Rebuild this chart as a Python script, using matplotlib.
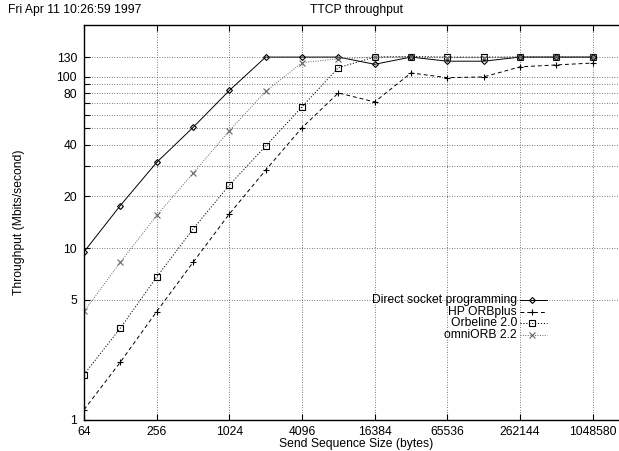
import matplotlib
matplotlib.use('Agg')
import matplotlib.pyplot as plt
from matplotlib.lines import Line2D

# send sizes (bytes) and throughput (Mbits/second)
sizes = [64, 128, 256, 512, 1024, 2048, 4096, 8192, 16384, 32768,
         65536, 131072, 262144, 524288, 1048576]
direct = [9.5, 17.7, 31.6, 50.5, 83, 130, 130, 130, 118, 130, 123, 123, 130, 130, 130]
hp = [1.14, 2.16, 4.26, 8.25, 15.8, 28.5, 50.3, 80.3, 71.2, 105, 98.6, 99.6, 114, 117, 120]
orbeline = [1.83, 3.41, 6.78, 12.9, 23.3, 39.3, 66.6, 112.8, 130, 131, 130, 130, 130, 130, 130]
omni = [4.28, 8.25, 15.5, 27.3, 48.3, 82, 120.6, 127, 130, 130, 129, 129, 130, 130, 130]

xtick_pos = [64, 256, 1024, 4096, 16384, 65536, 262144, 1048576]
xtick_lab = ['64', '256', '1024', '4096', '16384', '65536', '262144', '1048580']
ytick_pos = [1, 5, 10, 20, 30, 40, 50, 60, 70, 80, 90, 100, 130]
ytick_lab = ['1', '5', '10', '20', '', '40', '', '', '', '80', '', '100', '130']

plt.rcParams['font.family'] = ['Liberation Sans', 'DejaVu Sans']
plt.rcParams['font.size'] = 8.7

W, H = 619, 451
fig = plt.figure(figsize=(W / 100, H / 100), dpi=100)

def px(x, y):
    return x / W, 1 - y / H

left, right, top, bottom = 84, 629, 25, 419.5
ax = fig.add_axes([left / W, 1 - bottom / H, (right - left) / W, (bottom - top) / H])

series = [
    ('Direct socket programming', direct, dict(color='black', ls='-', marker='D', ms=3)),
    ('HP ORBplus', hp, dict(color='black', ls=(0, (4, 3)), marker='+', ms=4.5)),
    ('Orbeline 2.0', orbeline, dict(color='black', ls=(0, (1.2, 1.8)), marker='s', ms=4)),
    ('omniORB 2.2', omni, dict(color='0.4', ls=(0, (1, 1.5)), marker='x', ms=4)),
]
for name, vals, st in series:
    ax.plot(sizes, vals, lw=0.7, mfc='none', mew=0.8, **st)

ax.set_xscale('log', base=2)
ax.set_yscale('log')
ax.set_xlim(64, 2097152)
ax.set_ylim(1, 200)
ax.set_xticks(xtick_pos, xtick_lab)
ax.set_yticks(ytick_pos, ytick_lab)
ax.minorticks_off()
ax.tick_params(direction='in', length=4, width=0.8, top=True, right=True, pad=5)
ax.grid(True, color='0.3', ls=(0, (1, 2)), lw=0.6)
for s in ax.spines.values():
    s.set_linewidth(1.0)

ax.set_xlabel('Send Sequence Size (bytes)', labelpad=0)
ax.set_ylabel('Throughput (Mbits/second)')
ax.yaxis.set_label_coords((25 - left) / (right - left), 0.5)

fig.text(*px(8, 10), 'Fri Apr 11 10:26:59 1997', va='center', ha='left')
fig.text(*px((left + right) / 2, 10), 'TTCP throughput', va='center', ha='center')

# legend drawn in pixel positions
rows = [300, 311.7, 323.3, 335]
for (name, vals, st), y in zip(series, rows):
    fig.text(*px(517, y), name, ha='right', va='center')
    x0, y0 = px(520, y)
    x1, _ = px(547, y)
    fig.add_artist(Line2D([x0, x1], [y0, y0], transform=fig.transFigure,
                          lw=0.7, color=st['color'], ls=st['ls']))
    xm, _ = px(532, y)
    fig.add_artist(Line2D([xm], [y0], transform=fig.transFigure, ls='none',
                          color=st['color'], marker=st['marker'], ms=st['ms'],
                          mfc='none', mew=0.8))

fig.savefig('out.png', dpi=100)
